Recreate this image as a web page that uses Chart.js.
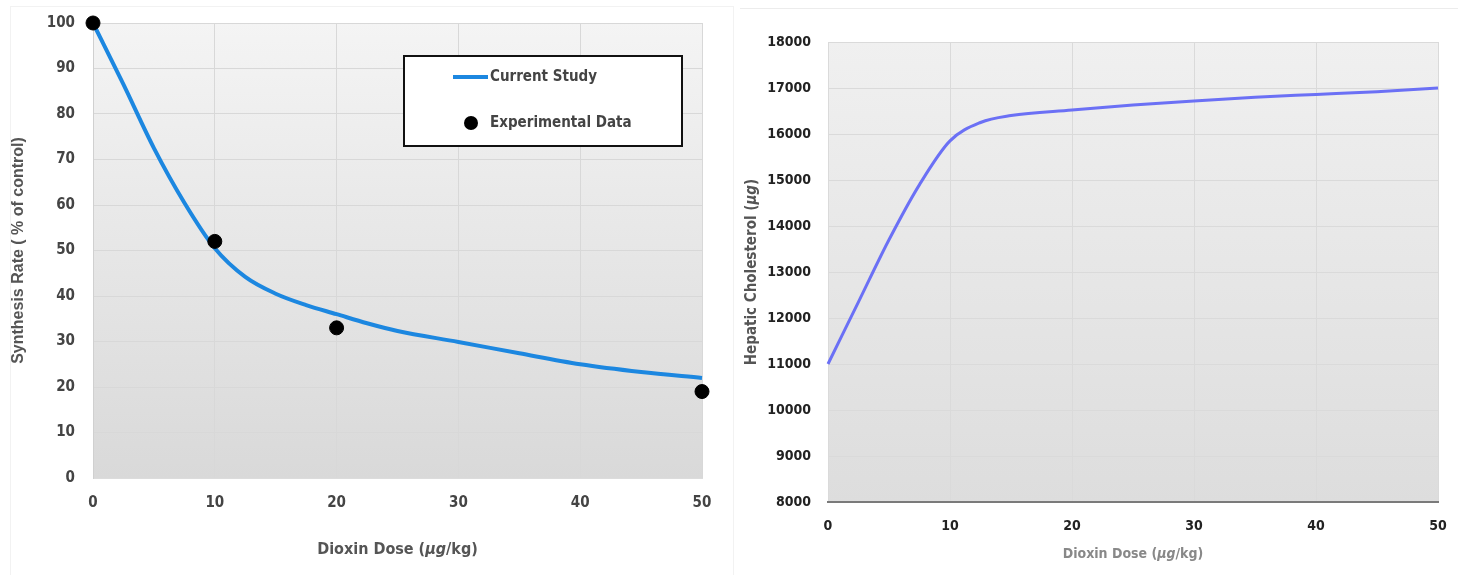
<!DOCTYPE html>
<html>
<head>
<meta charset="utf-8">
<script src="https://cdn.jsdelivr.net/npm/chart.js@4.4.1/dist/chart.umd.min.js"></script>
<style>
  html, body { margin: 0; padding: 0; background: #fff; }
  body { width: 1458px; height: 575px; position: relative; overflow: hidden; }
  .panel { position: absolute; top: 0; height: 575px; }
  #leftPanel { left: 0; width: 730px; }
  #rightPanel { left: 730px; width: 728px; }
  .frame { position: absolute; pointer-events: none; }
  #leftFrame { left: 10px; top: 6px; width: 722px; height: 580px; border: 1px solid #f2f2f2; }
  #rightFrame { left: 740px; top: 8px; width: 718px; height: 0; border-top: 1px solid #ececec; }
</style>
</head>
<body>
<div class="frame" id="leftFrame"></div>
<div class="frame" id="rightFrame"></div>
<div class="panel" id="leftPanel"><canvas id="synthesisChart" width="730" height="575"></canvas></div>
<div class="panel" id="rightPanel"><canvas id="cholesterolChart" width="728" height="575"></canvas></div>
<script>
// --- data ---
const doseModel = [0, 2.5, 5, 7.5, 10, 12.5, 15, 17.5, 20, 22.5, 25, 30, 35, 40, 45, 50];
const synthesisModel = [100, 86.5, 72.5, 60.5, 50.5, 44.2, 40.5, 38.0, 36.0, 34.0, 32.3, 29.9, 27.4, 25.0, 23.3, 22.0];

const doseExp = [0, 10, 20, 50];
const synthesisExp = [100, 52, 33, 19];

const doseChol = [0, 2.5, 5, 7.5, 10, 12.5, 15, 20, 25, 30, 35, 40, 45, 50];
const cholesterol = [11000, 12350, 13700, 14900, 15850, 16250, 16400, 16520, 16630, 16720, 16800, 16860, 16920, 17000];

const xTicks = [0, 10, 20, 30, 40, 50];
const synthesisTicks = [0, 10, 20, 30, 40, 50, 60, 70, 80, 90, 100];
const cholTicks = [8000, 9000, 10000, 11000, 12000, 13000, 14000, 15000, 16000, 17000, 18000];

const legendLabels = ['Current Study', 'Experimental Data'];
const xTitle = [['Dioxin Dose (', false], ['\u03bcg', true], ['/kg)', false]];
const leftYTitle = [['Synthesis Rate ( % of control)', false]];
const rightYTitle = [['Hepatic Cholesterol (', false], ['\u03bcg', true], [')', false]];

const toXY = (xs, ys) => xs.map((x, i) => ({ x, y: ys[i] }));

Chart.defaults.animation = false;
Chart.defaults.responsive = false;
Chart.defaults.devicePixelRatio = 1;

const condensed = "'DejaVu Sans Condensed', 'DejaVu Sans', sans-serif";

// plot area gradient fill
const plotBg = {
  id: 'plotBg',
  beforeDraw(chart, args, opts) {
    const { ctx, chartArea: a } = chart;
    const g = ctx.createLinearGradient(0, a.top, 0, a.bottom);
    g.addColorStop(0, opts.top);
    g.addColorStop(1, opts.bottom);
    ctx.save();
    ctx.fillStyle = g;
    ctx.fillRect(a.left, a.top, a.width, a.height);
    ctx.restore();
  }
};

// text with italic pieces (for the µg parts)
function drawRich(ctx, parts, cx, cy, rotate, size, weight, family, color) {
  ctx.save();
  ctx.translate(cx, cy);
  if (rotate) ctx.rotate(-Math.PI / 2);
  ctx.fillStyle = color;
  ctx.textBaseline = 'middle';
  ctx.textAlign = 'left';
  const fontFor = it => `${it ? 'italic ' : ''}${weight} ${size}px ${family}`;
  let total = 0;
  parts.forEach(([t, it]) => { ctx.font = fontFor(it); total += ctx.measureText(t).width; });
  let x = -total / 2;
  parts.forEach(([t, it]) => {
    ctx.font = fontFor(it);
    ctx.fillText(t, x, 0);
    x += ctx.measureText(t).width;
  });
  ctx.restore();
}

const axisTitles = {
  id: 'axisTitles',
  afterDraw(chart, args, o) {
    const { ctx, chartArea: a } = chart;
    drawRich(ctx, o.x.parts, (a.left + a.right) / 2, o.x.y, false, o.x.size, 'bold', o.x.family, o.x.color);
    drawRich(ctx, o.y.parts, o.y.x, (a.top + a.bottom) / 2, true, o.y.size, 'bold', o.y.family, o.y.color);
  }
};

// boxed legend inside the left plot
const boxLegend = {
  id: 'boxLegend',
  afterDraw(chart) {
    const { ctx, chartArea: a } = chart;
    const ds = chart.data.datasets;
    const bx = a.left + 311, by = a.top + 33, bw = 278, bh = 90;
    ctx.save();
    ctx.fillStyle = '#fff';
    ctx.fillRect(bx, by, bw, bh);
    ctx.strokeStyle = '#111';
    ctx.lineWidth = 2;
    ctx.strokeRect(bx, by, bw, bh);
    // line entry
    ctx.strokeStyle = ds[0].borderColor;
    ctx.lineWidth = 4;
    ctx.beginPath();
    ctx.moveTo(bx + 49, by + 21);
    ctx.lineTo(bx + 84, by + 21);
    ctx.stroke();
    // point entry
    ctx.fillStyle = ds[1].backgroundColor;
    ctx.beginPath();
    ctx.arc(bx + 67, by + 67, 7, 0, Math.PI * 2);
    ctx.fill();
    ctx.fillStyle = '#444';
    ctx.font = `bold 15px ${condensed}`;
    ctx.textBaseline = 'middle';
    ctx.fillText(ds[0].label, bx + 86, by + 21);
    ctx.fillText(ds[1].label, bx + 86, by + 67);
    ctx.restore();
  }
};

const tickFont = { family: condensed, size: 15, weight: 'bold' };

// ---- left chart: synthesis rate ----
new Chart(document.getElementById('synthesisChart'), {
  type: 'line',
  data: {
    datasets: [
      {
        label: legendLabels[0],
        data: toXY(doseModel, synthesisModel),
        borderColor: '#1c87e0',
        borderWidth: 4,
        pointRadius: 0,
        cubicInterpolationMode: 'monotone',
        order: 1,
        clip: false
      },
      {
        label: legendLabels[1],
        type: 'scatter',
        data: toXY(doseExp, synthesisExp),
        backgroundColor: '#000',
        borderColor: '#000',
        pointRadius: 7,
        order: 0,
        clip: false
      }
    ]
  },
  options: {
    layout: { padding: { left: 0, right: 28, top: 23, bottom: 0 } },
    plugins: {
      legend: { display: false },
      tooltip: { enabled: false },
      plotBg: { top: '#f4f4f4', bottom: '#d9d9d9' },
      axisTitles: {
        x: { parts: xTitle, y: 550, size: 16, family: condensed, color: '#555' },
        y: { parts: leftYTitle, x: 19, size: 16, family: "'Liberation Sans', Arial, sans-serif", color: '#555' }
      }
    },
    scales: {
      x: {
        type: 'linear', min: 0, max: 50,
        afterBuildTicks: s => { s.ticks = xTicks.map(v => ({ value: v })); },
        afterFit: s => { s.height = 97; s.paddingRight = 0; },
        grid: { color: '#d8d8d8', drawTicks: false },
        border: { color: '#dcdcdc' },
        ticks: { padding: 16, color: '#444', font: tickFont }
      },
      y: {
        min: 0, max: 100,
        afterBuildTicks: s => { s.ticks = synthesisTicks.map(v => ({ value: v })); },
        afterFit: s => { s.width = 93; s.paddingTop = 0; s.paddingBottom = 0; },
        grid: { color: '#d8d8d8', drawTicks: false },
        border: { color: '#d0d0d0' },
        ticks: { padding: 18, color: '#444', font: tickFont }
      }
    }
  },
  plugins: [plotBg, axisTitles, boxLegend]
});

// ---- right chart: hepatic cholesterol ----
new Chart(document.getElementById('cholesterolChart'), {
  type: 'line',
  data: {
    datasets: [{
      label: 'Hepatic Cholesterol',
      data: toXY(doseChol, cholesterol),
      borderColor: '#6b70f5',
      borderWidth: 3,
      pointRadius: 0,
      cubicInterpolationMode: 'monotone',
      clip: false
    }]
  },
  options: {
    layout: { padding: { left: 0, right: 20, top: 42, bottom: 0 } },
    plugins: {
      legend: { display: false },
      tooltip: { enabled: false },
      plotBg: { top: '#f0f0f0', bottom: '#dddddd' },
      axisTitles: {
        x: { parts: xTitle, y: 554, size: 14, family: condensed, color: '#888' },
        y: { parts: rightYTitle, x: 22, size: 15, family: condensed, color: '#555' }
      }
    },
    scales: {
      x: {
        type: 'linear', min: 0, max: 50,
        afterBuildTicks: s => { s.ticks = xTicks.map(v => ({ value: v })); },
        afterFit: s => { s.height = 73; s.paddingRight = 0; },
        grid: { color: '#dadada', drawTicks: false },
        border: { color: '#7a7a7a', width: 2 },
        ticks: { padding: 16, color: '#222', font: { family: condensed, size: 14, weight: 'bold' } }
      },
      y: {
        min: 8000, max: 18000,
        afterBuildTicks: s => { s.ticks = cholTicks.map(v => ({ value: v })); },
        afterFit: s => { s.width = 98; s.paddingTop = 0; s.paddingBottom = 0; },
        grid: { color: '#dadada', drawTicks: false },
        border: { display: false },
        ticks: {
          padding: 17, color: '#222',
          font: { family: condensed, size: 14, weight: 'bold' },
          callback: v => String(v)
        }
      }
    }
  },
  plugins: [plotBg, axisTitles]
});
</script>
</body>
</html>
